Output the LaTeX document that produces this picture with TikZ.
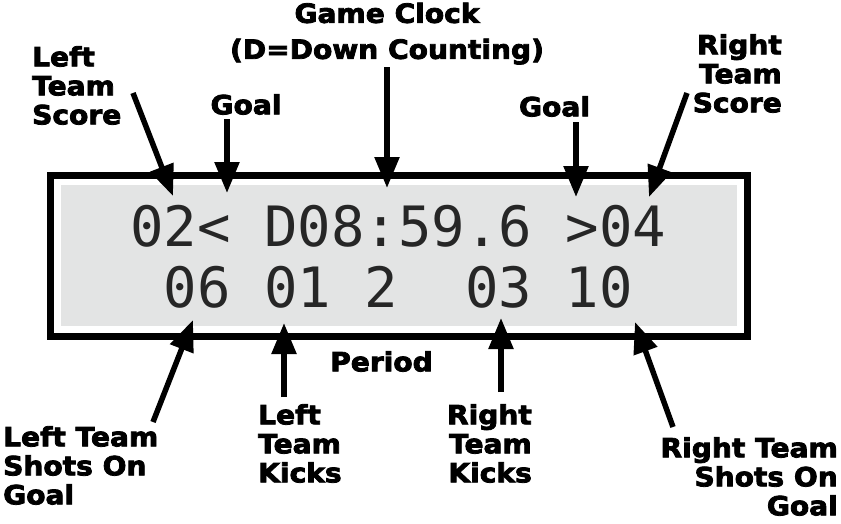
\documentclass[tikz,border=0pt]{standalone}
\usepackage{fontspec}
\usetikzlibrary{arrows.meta}
\newfontfamily\lblfont{DejaVu Sans}[BoldFeatures={FakeBold=3,FakeStretch=1.06}]
\newfontfamily\lcdfont{DejaVu Sans Mono}
\definecolor{lcdgray}{HTML}{E3E4E4}
\definecolor{lcdink}{HTML}{262626}
\begin{document}
\begin{tikzpicture}[x=1pt,y=-1pt,
  lbl/.style={font={\lblfont\bfseries\fontsize{26.5}{29}\selectfont}, inner sep=0pt},
  lcd/.style={font={\lcdfont\fontsize{55.6}{60}\selectfont}, inner sep=0pt, anchor=base west, text=lcdink},
  ptr/.style={line width=5.5pt, -{Triangle[width=24pt,length=31pt]}},
  frame/.style={line width=7pt, draw=black},
]
\useasboundingbox[fill=white] (0,0) rectangle (841,523);

% display
\draw[frame] (50.5,175) rectangle (747,336.5);
\fill[lcdgray] (61,185) rectangle (737,326);
\node[lcd] (row1) at (130.25,246) {02<~D08:59.6~>04};
\node[lcd] (row2) at (130.25,307) {~06~01~2~~03~10};

% labels
\node[lbl, align=center, anchor=north, font={\lblfont\bfseries\fontsize{26.5}{36}\selectfont}] (clock) at (387,2.5) {Game Clock\\(D=Down Counting)};
\node[lbl, align=left, anchor=north west] (lscore) at (32,46) {Left\\Team\\Score};
\node[lbl, anchor=north] (lgoal) at (246,94) {Goal};
\node[lbl, anchor=north] (rgoal) at (554.5,96) {Goal};
\node[lbl, align=right, anchor=north east] (rscore) at (782,34) {Right\\Team\\Score};
\node[lbl, anchor=north] (period) at (381.5,351) {Period};
\node[lbl, align=left, anchor=north west] (lshots) at (3,426) {Left Team\\Shots On\\Goal};
\node[lbl, align=left, anchor=north west] (lkicks) at (258,404) {Left\\Team\\Kicks};
\node[lbl, align=right, anchor=north east] (rkicks) at (532,404) {Right\\Team\\Kicks};
\node[lbl, align=right, anchor=north east] (rshots) at (838,437) {Right Team\\Shots On\\Goal};

% pointer ends
\coordinate (lscoreT) at (133,93);   \coordinate (lscoreH) at (173,196);
\coordinate (lgoalT) at (227,119);   \coordinate (lgoalH) at (227,193);
\coordinate (clockT) at (387,67);    \coordinate (clockH) at (387,188);
\coordinate (rgoalT) at (576,122);   \coordinate (rgoalH) at (576,197);
\coordinate (rscoreT) at (687,93);   \coordinate (rscoreH) at (649,197);
\coordinate (lshotsT) at (153,422);  \coordinate (lshotsH) at (193,320);
\coordinate (lkicksT) at (284,397);  \coordinate (lkicksH) at (284,323);
\coordinate (rkicksT) at (501,392);  \coordinate (rkicksH) at (501,318);
\coordinate (rshotsT) at (673,427);  \coordinate (rshotsH) at (635,322);

\draw[ptr] (lscoreT) -- (lscoreH);
\draw[ptr] (lgoalT) -- (lgoalH);
\draw[ptr] (clockT) -- (clockH);
\draw[ptr] (rgoalT) -- (rgoalH);
\draw[ptr] (rscoreT) -- (rscoreH);
\draw[ptr] (lshotsT) -- (lshotsH);
\draw[ptr] (lkicksT) -- (lkicksH);
\draw[ptr] (rkicksT) -- (rkicksH);
\draw[ptr] (rshotsT) -- (rshotsH);
\end{tikzpicture}
\end{document}
